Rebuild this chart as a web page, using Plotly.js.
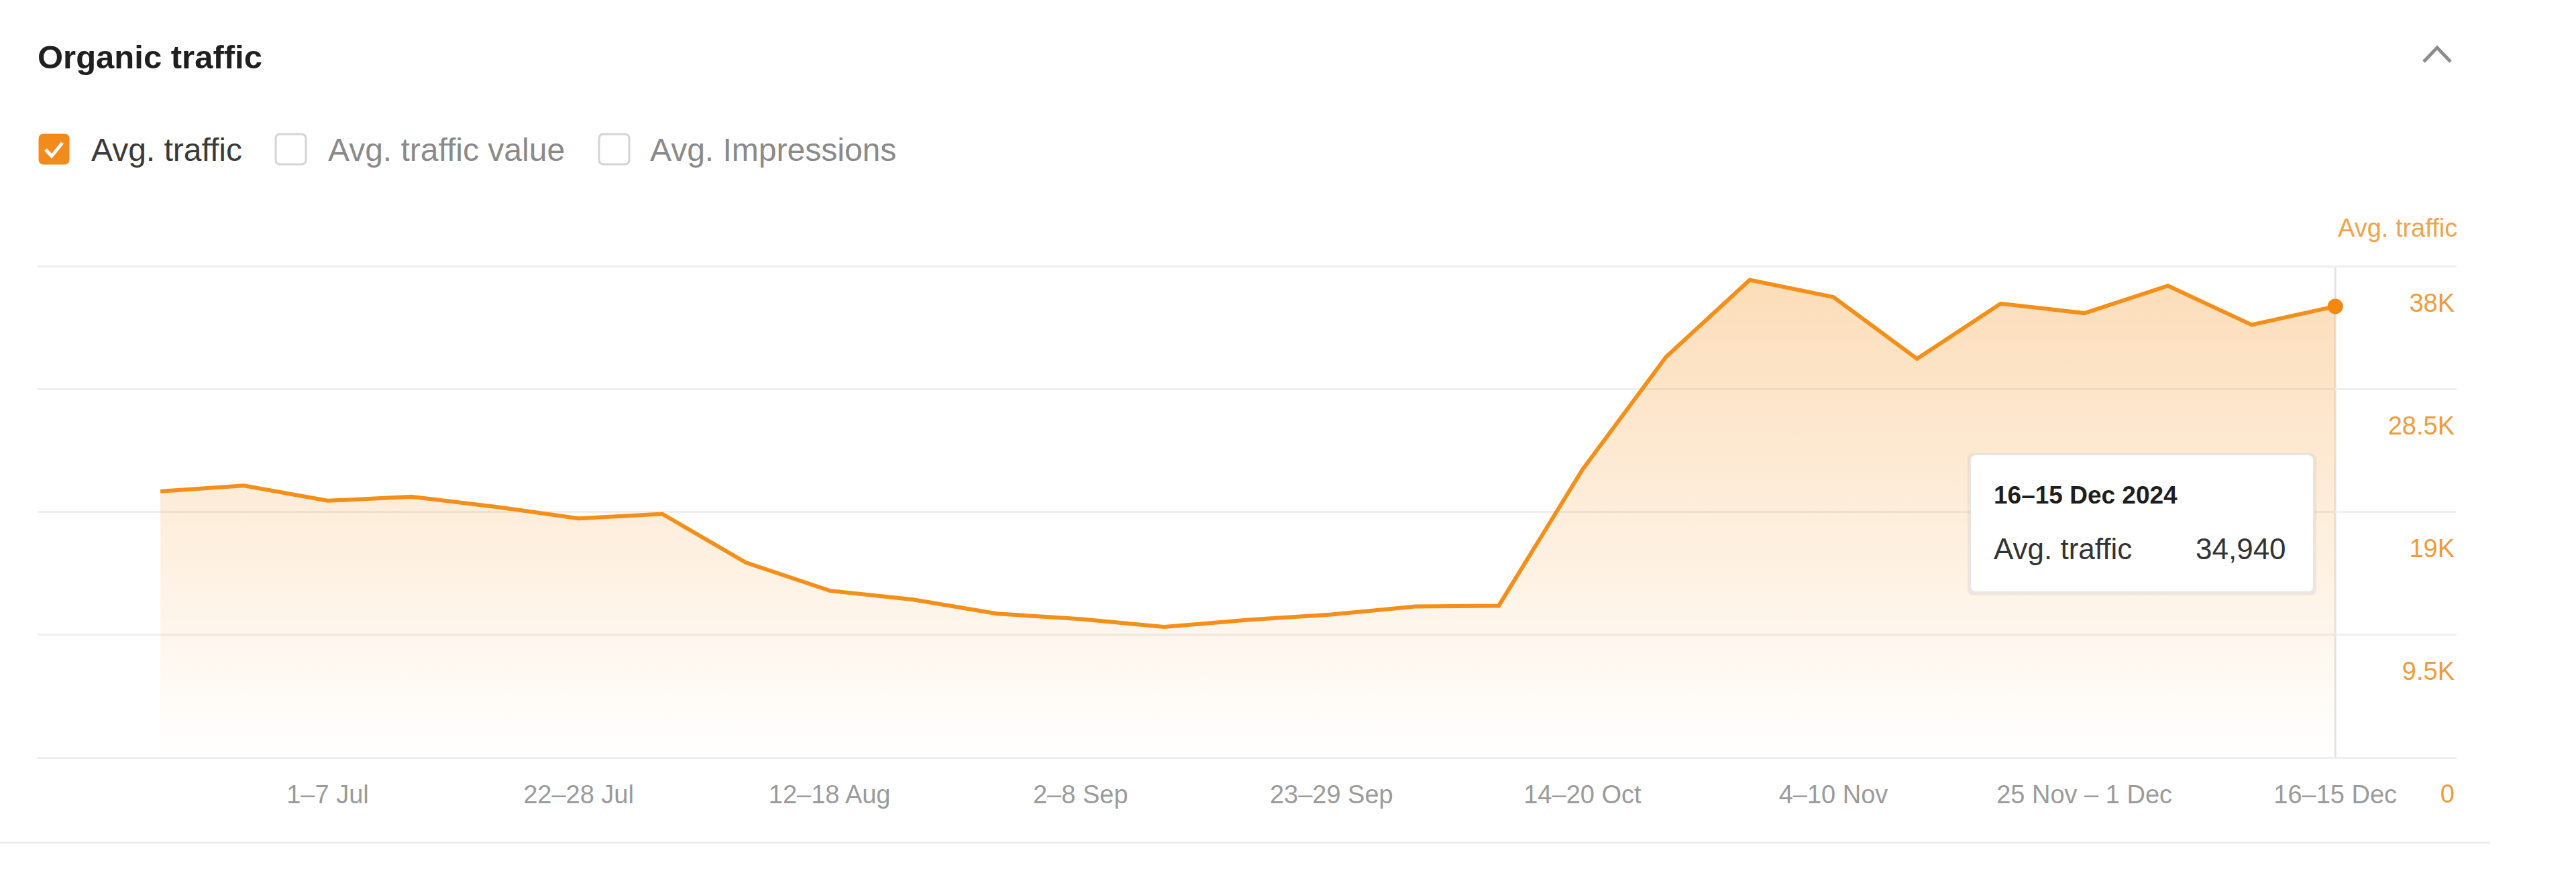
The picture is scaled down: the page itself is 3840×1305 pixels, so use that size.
<!DOCTYPE html>
<html><head><meta charset="utf-8">
<script src="https://cdn.plot.ly/plotly-3.0.1.min.js"></script>
<style>html,body{margin:0;padding:0;background:#fff;} #chart{width:3840px;height:1305px;}</style>
</head><body><div id="chart"></div>
<script>
// ---- data ----
const weeks = ["17–23 Jun","24–30 Jun","1–7 Jul","8–14 Jul","15–21 Jul","22–28 Jul","29 Jul – 4 Aug",
  "5–11 Aug","12–18 Aug","19–25 Aug","26 Aug – 1 Sep","2–8 Sep","9–15 Sep","16–22 Sep","23–29 Sep",
  "30 Sep – 6 Oct","7–13 Oct","14–20 Oct","21–27 Oct","28 Oct – 3 Nov","4–10 Nov","11–17 Nov",
  "18–24 Nov","25 Nov – 1 Dec","2–8 Dec","9–15 Dec","16–15 Dec"];
const traffic = [20620,21060,19890,20200,19430,18520,18870,15100,12930,12240,11150,10730,10120,10670,
  11080,11700,11760,22300,31030,36980,35660,30880,35150,34410,36530,33510,34940];
const yTickVals = [0, 9500, 19000, 28500, 38000];
const yTickText = ["0", "9.5K", "19K", "28.5K", "38K"];
const metricNames = ["Avg. traffic", "Avg. traffic value", "Avg. Impressions"];
const metricChecked = [true, false, false];
const chartTitle = "Organic traffic";
const axisName = "Avg. traffic";
const tooltipYear = "2024";

// ---- layout geometry (pixels) ----
const W = 3840, H = 1305;
const M = {l: 55, r: 178, t: 396, b: 175};
const PW = W - M.l - M.r, PH = H - M.t - M.b;
const px = x => (x - M.l) / PW;
const py = y => (H - M.b - y) / PH;
const FONT = "Liberation Sans, Arial, Helvetica, sans-serif";
const ORANGE = "#f4901a";

function rrect(x0, y0, x1, y1, r) {
  const P = (x, y) => px(x) + "," + py(y);
  return "M" + P(x0 + r, y0) + " L" + P(x1 - r, y0) + " Q" + P(x1, y0) + " " + P(x1, y0 + r) +
    " L" + P(x1, y1 - r) + " Q" + P(x1, y1) + " " + P(x1 - r, y1) +
    " L" + P(x0 + r, y1) + " Q" + P(x0, y1) + " " + P(x0, y1 - r) +
    " L" + P(x0, y0 + r) + " Q" + P(x0, y0) + " " + P(x0 + r, y0) + " Z";
}
function pline(pts) {
  return pts.map((p, i) => (i ? "L" : "M") + px(p[0]) + "," + py(p[1])).join(" ");
}

const last = traffic.length - 1;
const shapes = [];
const annotations = [];

// checkboxes + labels
const boxX = [58, 411, 893];
const labelX = [134, 487, 967];
metricNames.forEach((name, i) => {
  const x0 = boxX[i], y0 = 200, s = 45;
  if (metricChecked[i]) {
    shapes.push({type: "path", xref: "paper", yref: "paper", path: rrect(x0, y0, x0 + s, y0 + s, 7),
      fillcolor: "#f28a1c", line: {color: "#f28a1c", width: 1}});
    shapes.push({type: "path", xref: "paper", yref: "paper",
      path: pline([[x0 + 10, y0 + 23], [x0 + 19, y0 + 33], [x0 + 35, y0 + 13]]),
      line: {color: "#ffffff", width: 5}});
  } else {
    shapes.push({type: "path", xref: "paper", yref: "paper", path: rrect(x0, y0, x0 + s, y0 + s, 7),
      fillcolor: "#ffffff", line: {color: "#d4d4d4", width: 3}});
  }
  annotations.push({xref: "paper", yref: "paper", x: px(labelX[i]), y: py(223), xanchor: "left", yanchor: "middle",
    text: name, showarrow: false, font: {family: FONT, size: 48, color: metricChecked[i] ? "#3a3a3a" : "#8a8a8a"}});
});

// collapse chevron
shapes.push({type: "path", xref: "paper", yref: "paper", path: pline([[3613, 92], [3633, 71], [3653, 92]]),
  line: {color: "#8c8c8c", width: 5}});

// bottom separator
shapes.push({type: "line", xref: "paper", yref: "paper", x0: px(0), x1: px(3712), y0: py(1257), y1: py(1257),
  line: {color: "#ececec", width: 3}});

// hover spike line at the last point
shapes.push({type: "line", xref: "x", yref: "paper", x0: last, x1: last, y0: 0, y1: 1, layer: "below",
  line: {color: "#e3e3e3", width: 3}});

// tooltip box
shapes.push({type: "path", xref: "paper", yref: "paper", path: rrect(2933, 676, 3453, 888, 10),
  fillcolor: "rgba(0,0,0,0.05)", line: {width: 0}});
shapes.push({type: "path", xref: "paper", yref: "paper", path: rrect(2937, 678, 3449, 883, 9),
  fillcolor: "#ffffff", line: {color: "#e6e6e6", width: 2}});
annotations.push({xref: "paper", yref: "paper", x: px(2970), y: py(738), xanchor: "left", yanchor: "middle",
  text: "<b>" + weeks[last] + " " + tooltipYear + "</b>", showarrow: false, font: {family: FONT, size: 37, color: "#1e1e1e"}});
annotations.push({xref: "paper", yref: "paper", x: px(2970), y: py(818), xanchor: "left", yanchor: "middle",
  text: axisName, showarrow: false, font: {family: FONT, size: 44, color: "#333333"}});
annotations.push({xref: "paper", yref: "paper", x: px(3410), y: py(818), xanchor: "right", yanchor: "middle",
  text: traffic[last].toLocaleString("en-US"), showarrow: false, font: {family: FONT, size: 44, color: "#333333"}});

// axis name top-right
annotations.push({xref: "paper", yref: "paper", x: px(3665), y: py(340), xanchor: "right", yanchor: "middle",
  text: axisName, showarrow: false, font: {family: FONT, size: 38, color: "#f3a24a"}});

const traces = [
  {x: weeks, y: traffic, type: "scatter", mode: "lines", line: {color: ORANGE, width: 6},
   fill: "tozeroy",
   fillgradient: {type: "vertical", start: 0, stop: 38000,
     colorscale: [[0, "rgba(245,145,30,0.0)"], [1, "rgba(245,145,30,0.32)"]]},
   hoverinfo: "skip"},
  {x: [weeks[last]], y: [traffic[last]], type: "scatter", mode: "markers",
   marker: {color: "#f28a10", size: 23}, hoverinfo: "skip", cliponaxis: false}
];

const layout = {
  width: W, height: H, margin: M,
  paper_bgcolor: "#ffffff", plot_bgcolor: "#ffffff",
  showlegend: false,
  font: {family: FONT},
  title: {text: "<b>" + chartTitle + "</b>", xref: "container", yref: "container", x: 56 / W, xanchor: "left",
    y: 1 - 85 / H, yanchor: "middle", font: {family: FONT, size: 49, color: "#1f1f1f"}},
  xaxis: {type: "category", range: [-1.476, 27.45], showgrid: false, zeroline: false, showline: false,
    ticks: "", tickvals: weeks.filter((w, i) => i % 3 === 2), ticktext: weeks.filter((w, i) => i % 3 === 2),
    tickfont: {family: FONT, size: 38, color: "#9b9b9b"}, ticklabelstandoff: 29, fixedrange: true},
  yaxis: {range: [0, 38100], side: "right", tickvals: yTickVals, ticktext: yTickText,
    ticklabelposition: "inside", ticklabelshift: 54, ticklabeloverflow: "allow", ticklabelstandoff: 0,
    showgrid: true, gridcolor: "#efefef", gridwidth: 3,
    zeroline: true, zerolinecolor: "#efefef", zerolinewidth: 3, showline: false, ticks: "",
    tickfont: {family: FONT, size: 38, color: "#f29b3a"}, fixedrange: true},
  shapes: shapes,
  annotations: annotations
};

Plotly.newPlot("chart", traces, layout, {staticPlot: true, displayModeBar: false});
</script>
</body></html>
